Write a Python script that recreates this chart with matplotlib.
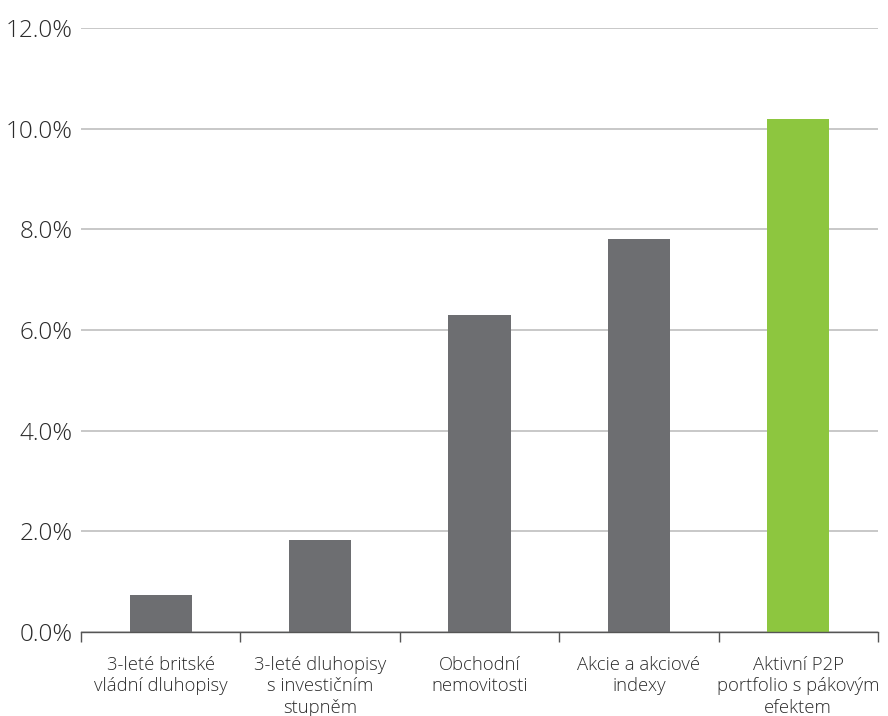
import matplotlib.pyplot as plt
from matplotlib.ticker import FuncFormatter, FixedLocator

plt.rcParams['font.family'] = ['Open Sans', 'DejaVu Sans']
plt.rcParams['font.weight'] = 'light'

categories = ['3-leté britské\nvládní dluhopisy',
              '3-leté dluhopisy\ns investičním\nstupněm',
              'Obchodní\nnemovitosti',
              'Akcie a akciové\nindexy',
              'Aktivní P2P\nportfolio s pákovým\nefektem']
values = [0.74, 1.83, 6.3, 7.8, 10.2]
colors = ['#6d6e71', '#6d6e71', '#6d6e71', '#6d6e71', '#8dc63f']

fig = plt.figure(figsize=(8.88, 7.16), dpi=100)
ax = fig.add_axes([0.0912, 0.1173, 0.8975, 0.8437])

x = list(range(len(categories)))
ax.bar(x, values, width=0.39, color=colors, zorder=3)

ax.set_xlim(-0.5, len(categories) - 0.5)
ax.set_ylim(0, 12)
ax.set_yticks([0, 2, 4, 6, 8, 10, 12])
ax.yaxis.set_major_formatter(FuncFormatter(lambda v, p: f'{v:.1f}%'))
ax.grid(axis='y', color='#bfbfbf', linewidth=1.2, zorder=0)

ax.set_xticks(x)
ax.set_xticklabels(categories, fontsize=13.3, color='#2b2b2b', linespacing=1.25)
ax.xaxis.set_minor_locator(FixedLocator([i - 0.5 for i in range(len(categories) + 1)]))
ax.tick_params(axis='x', which='major', length=0, pad=17)
ax.tick_params(axis='x', which='minor', length=7, width=1, color='#555555')
ax.tick_params(axis='y', length=0, pad=6, labelsize=17.5, labelcolor='#2b2b2b')

for s in ['top', 'right', 'left']:
    ax.spines[s].set_visible(False)
ax.spines['bottom'].set_color('#555555')
ax.spines['bottom'].set_linewidth(1)
ax.spines['bottom'].set_zorder(4)

fig.savefig('out.png', dpi=100)
